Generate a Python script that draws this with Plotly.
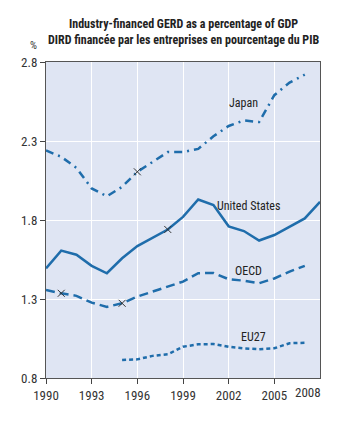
import plotly.graph_objects as go

years = list(range(1990, 2009))
japan = [2.24, 2.20, 2.13, 2.00, 1.95, 2.01, 2.105, 2.17, 2.23, 2.23, 2.25, 2.33, 2.395, 2.43, 2.42, 2.59, 2.67, 2.72, None]
us = [1.494, 1.606, 1.58, 1.51, 1.463, 1.558, 1.635, 1.69, 1.74, 1.82, 1.93, 1.895, 1.76, 1.73, 1.67, 1.705, 1.76, 1.81, 1.915]
oecd = [1.357, 1.336, 1.32, 1.277, 1.25, 1.273, 1.315, 1.346, 1.378, 1.41, 1.463, 1.465, 1.425, 1.416, 1.40, 1.43, 1.473, 1.51, None]
eu27 = [None, None, None, None, None, 0.914, 0.918, 0.94, 0.95, 0.998, 1.013, 1.015, 0.998, 0.988, 0.982, 0.988, 1.02, 1.023, None]

break_years = [1996, 1998, 1991, 1995]
break_vals = [japan[6], us[8], oecd[1], oecd[5]]

x_ticks = [1990, 1993, 1996, 1999, 2002, 2005]
y_ticks = [0.8, 1.3, 1.8, 2.3, 2.8]

labels = [("Japan", 2003.0, 2.54), ("United States", 2003.3, 1.89), ("OECD", 2003.3, 1.48), ("EU27", 2003.6, 1.06)]

BLUE = "#1f6dab"
FONT = "Liberation Sans Narrow, Arial Narrow, Roboto Condensed, sans-serif"

fig = go.Figure()
def add(y, dash):
    fig.add_trace(go.Scatter(x=years, y=y, mode="lines", line=dict(color=BLUE, width=2.5, dash=dash),
                             connectgaps=False, hoverinfo="skip", showlegend=False))
add(japan, "8px,5px,2px,5px")
add(us, "solid")
add(oecd, "9px,5px")
add(eu27, "4px,3px")
fig.add_trace(go.Scatter(x=break_years, y=break_vals, mode="markers",
                         marker=dict(symbol="x-thin", size=7, line=dict(color="#333333", width=1)),
                         showlegend=False, hoverinfo="skip"))

for t, x, y in labels:
    fig.add_annotation(x=x, y=y, text=t, showarrow=False, xanchor="center", yanchor="middle",
                       font=dict(family=FONT, size=12, color="#222222"))

fig.add_annotation(x=2008, y=0.8, text="2008", showarrow=False, xanchor="right", yanchor="top",
                   yshift=-5, xshift=3, font=dict(family=FONT, size=13, color="#333333"))

fig.add_annotation(xref="paper", yref="paper", x=0.5, y=1.0, yshift=38, text="<b>Industry-financed GERD as a percentage of GDP</b>",
                   showarrow=False, xanchor="center", yanchor="middle", font=dict(family=FONT, size=12, color="#222222"))
fig.add_annotation(xref="paper", yref="paper", x=0.5, y=1.0, yshift=22, text="<b>DIRD financée par les entreprises en pourcentage du PIB</b>",
                   showarrow=False, xanchor="center", yanchor="middle", font=dict(family=FONT, size=12, color="#222222"))
fig.add_annotation(xref="paper", yref="paper", x=0, y=1.0, xshift=-13, yshift=17, text="%",
                   showarrow=False, xanchor="center", yanchor="middle", font=dict(family=FONT, size=11, color="#333333"))

fig.update_layout(
    width=354, height=435,
    margin=dict(l=46, r=34, t=62, b=57),
    paper_bgcolor="white", plot_bgcolor="#dfe5f3",
    font=dict(family=FONT, size=13, color="#333333"),
)
fig.update_xaxes(range=[1990, 2008], tickvals=x_ticks, ticks="outside", ticklen=5, tickcolor="#444444",
                 showgrid=True, gridcolor="white", gridwidth=1.2, showline=True, linecolor="#555555", linewidth=1.2,
                 mirror=True, zeroline=False, tickfont=dict(family=FONT, size=13))
fig.update_yaxes(range=[0.8, 2.8], tickvals=y_ticks, tickformat=".1f", ticks="outside", ticklen=5, tickcolor="#444444",
                 showgrid=True, gridcolor="white", gridwidth=1.2, showline=True, linecolor="#555555", linewidth=1.2,
                 mirror=True, zeroline=False, tickfont=dict(family=FONT, size=13))

fig.write_html("out.html")
